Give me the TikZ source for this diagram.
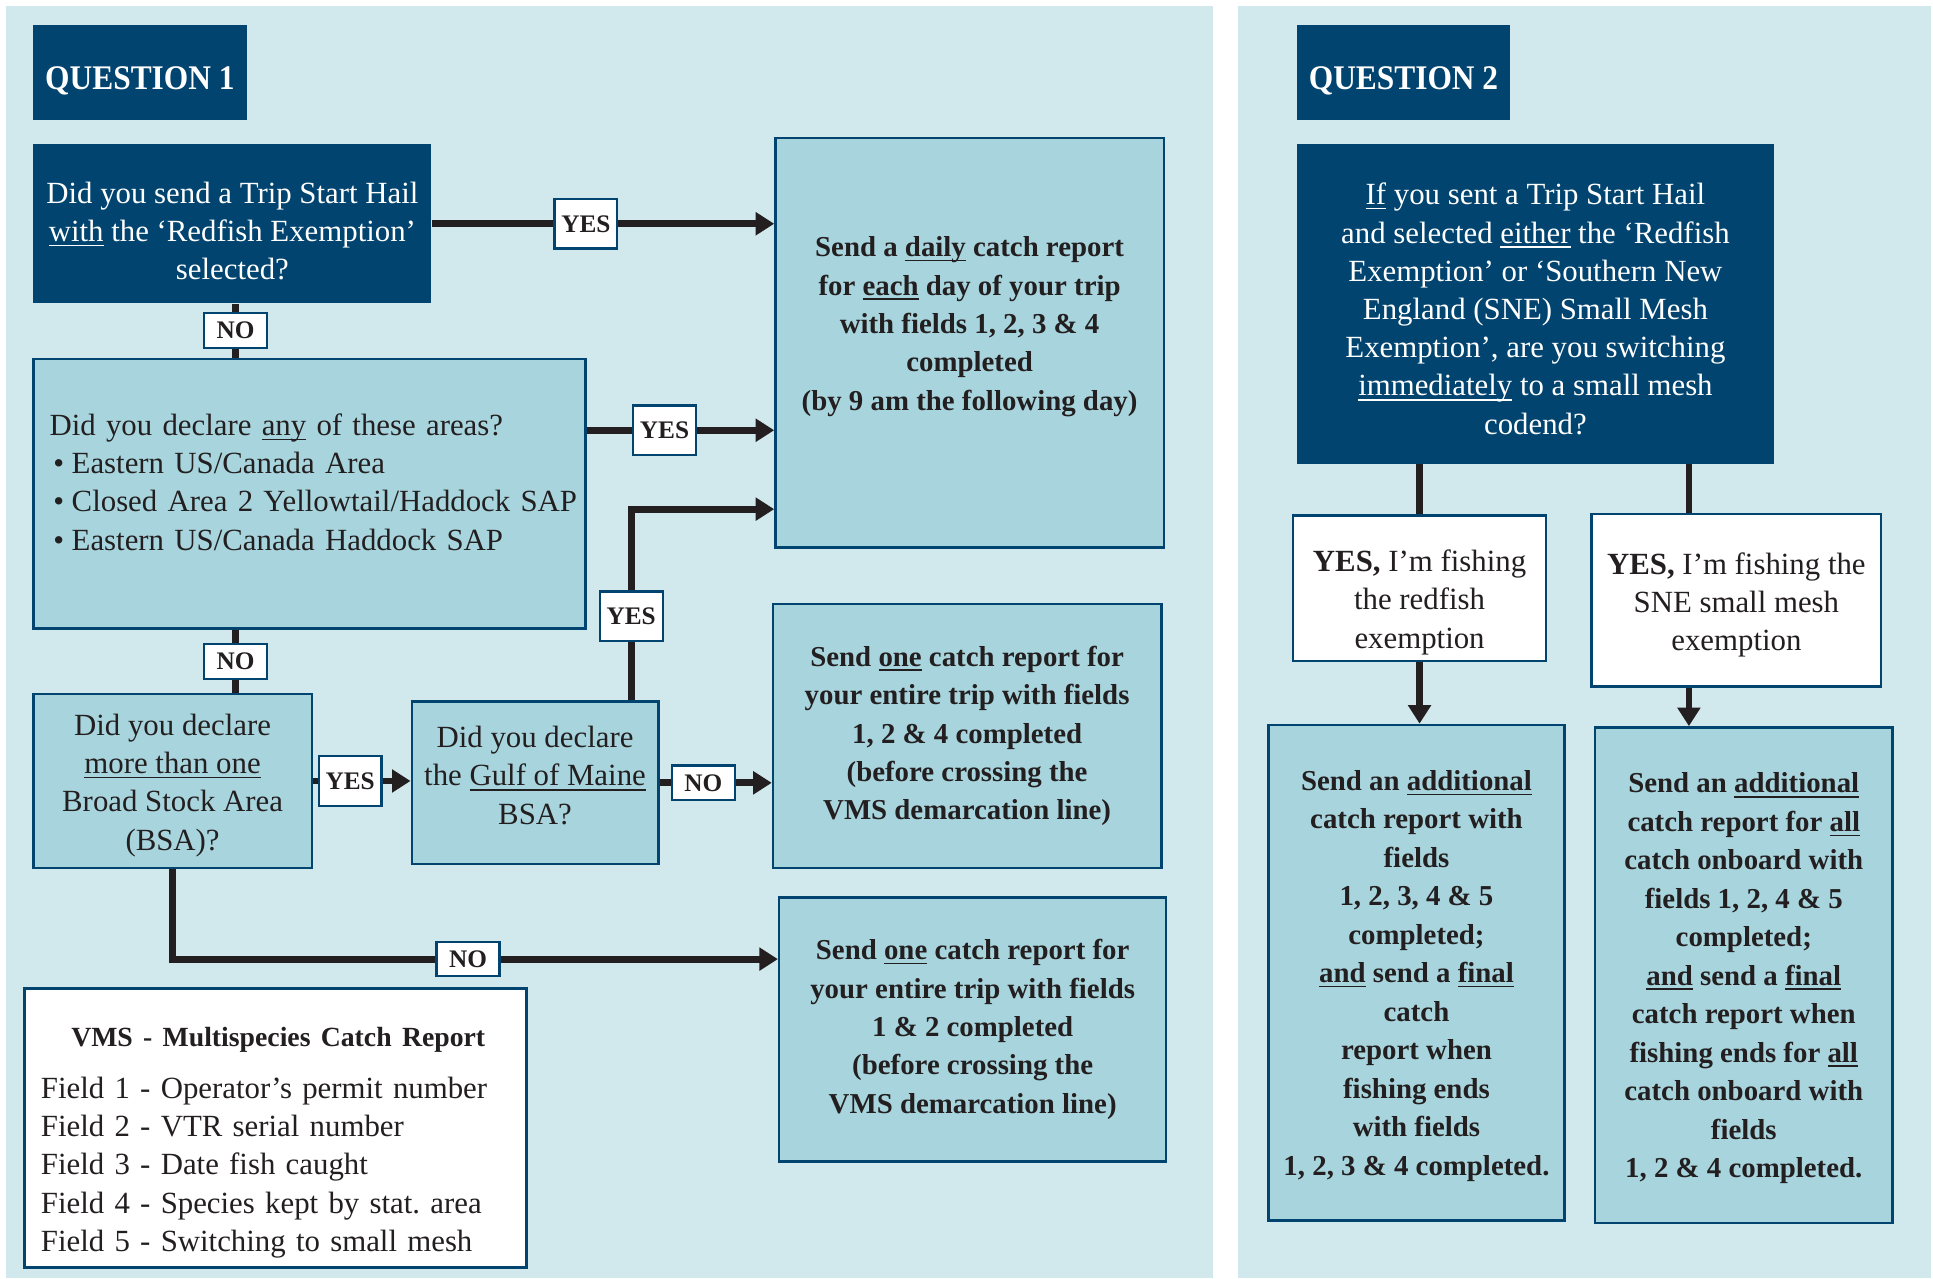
\documentclass[tikz,border=0pt]{standalone}
\usepackage{fontspec}
\setmainfont{Liberation Serif}
\newfontfamily\headfamily[FakeStretch=0.91]{Liberation Serif}
\usetikzlibrary{arrows.meta}
\definecolor{navy}{HTML}{00446F}
\definecolor{panelblue}{HTML}{D1E8EC}
\definecolor{boxblue}{HTML}{A8D5DD}
\definecolor{ink}{HTML}{231F20}
\newcommand{\bodyfont}{\fontsize{25}{31}\selectfont}
\newcommand{\reportfont}{\fontsize{23.4}{31.2}\selectfont\bfseries}
\newcommand{\tagfont}{\fontsize{20.5}{24}\selectfont\bfseries}
\newcommand{\headfont}{\headfamily\fontsize{28}{32}\selectfont\bfseries}
\newsavebox{\undrbox}
\newcommand{\undr}[1]{\sbox{\undrbox}{#1}\rlap{\rule[-3.8pt]{\wd\undrbox}{1.2pt}}\usebox{\undrbox}}
\newcommand{\bull}{\makebox[18pt][l]{\hspace{3pt}•}}
\frenchspacing

\begin{document}
\begin{tikzpicture}[x=1pt,y=-1pt]
        % Styles
        \tikzstyle{panel}=[fill=panelblue]
        \tikzstyle{head box}=[fill=navy,text=white,font=\headfont,minimum width=173pt,minimum height=77pt,inner sep=0pt,text height=31pt,text depth=2pt]
        \tikzstyle{question box}=[fill=navy,inner sep=0pt]
        \tikzstyle{question text}=[text=white,font=\bodyfont,align=center,inner sep=0pt]
        \tikzstyle{decision box}=[fill=boxblue,draw=navy,line width=2pt,text=ink,font=\bodyfont,align=center,inner sep=0pt]
        \tikzstyle{report box}=[decision box,font=\reportfont]
        \tikzstyle{answer box}=[fill=white,draw=navy,line width=2pt,inner sep=0pt]
        \tikzstyle{report text}=[text=ink,font=\reportfont,align=center,inner sep=0pt]
        \tikzstyle{answer text}=[text=ink,font=\bodyfont,align=center,inner sep=0pt]
        \tikzstyle{list text}=[text=ink,font=\bodyfont,align=left,inner sep=0pt]
        \tikzstyle{tag box}=[fill=white,draw=navy,line width=1.8pt,text=ink,font=\tagfont,minimum width=51pt,inner sep=0pt]
        \tikzstyle{yes tag}=[tag box,minimum height=40pt]
        \tikzstyle{no tag}=[tag box,minimum height=28pt]
        \tikzstyle{flow line}=[line width=5.5pt,draw=ink]
        \tikzstyle{flow arrow}=[flow line,-{Triangle[length=15pt,width=18pt]}]
        %The graphic
        \useasboundingbox (0,0) rectangle (1568,1037);
        %panels
        \foreach \xa/\xb in {5/984,1004/1566}
            \fill[style=panel] (\xa,5) rectangle (\xb,1037);
        \foreach \n/\x in {1/113.5,2/1138.5}
            \node[head box] (head \n) at (\x,58.5) {QUESTION \n};
        %question 1
        \node[question box,minimum width=323pt,minimum height=129pt] (hail) at (188.5,181.5) {};
        \node[question text] (hail text) at ([yshift=-6pt]hail.center)
            {Did you send a Trip Start Hail\\\undr{with} the ‘Redfish Exemption’\\selected?};
        \node[decision box,minimum width=448pt,minimum height=219pt] (areas) at (251,400.5) {};
        \node[list text,text width=430pt,anchor=west] (areas text) at ([xshift=14pt,yshift=9.5pt]areas.west)
            {Did you declare \undr{any} of these areas?\\ \bull Eastern US/Canada Area\\ \bull Closed Area 2 Yellowtail/Haddock SAP\\ \bull Eastern US/Canada Haddock SAP};
        \node[report box,minimum width=315pt,minimum height=332pt] (daily) at (786.5,278) {};
        \node[report text] (daily text) at ([yshift=13pt]daily.center)
            {Send a \undr{daily} catch report\\for \undr{each} day of your trip\\with fields 1, 2, 3 \& 4\\completed\\(by 9 am the following day)};
        \node[decision box,minimum width=226pt,minimum height=141pt] (bsa) at (140,633.5) {};
        \node[answer text] (bsa text) at ([yshift=-3.5pt]bsa.center)
            {Did you declare\\\undr{more than one}\\Broad Stock Area\\(BSA)?};
        \node[decision box,minimum width=200pt,minimum height=132pt] (gom) at (434,635) {};
        \node[answer text] (gom text) at ([yshift=6pt]gom.center)
            {Did you declare\\the \undr{Gulf of Maine}\\BSA?};
        \node[report box,minimum width=315pt,minimum height=214pt] (entire trip) at (784.5,597)
            {Send \undr{one} catch report for\\your entire trip with fields\\1, 2 \& 4 completed\\(before crossing the\\VMS demarcation line)};
        \node[report box,minimum width=314pt,minimum height=214pt] (entire trip two) at (789,835)
            {Send \undr{one} catch report for\\your entire trip with fields\\1 \& 2 completed\\(before crossing the\\VMS demarcation line)};
        %legend
        \node[answer box,minimum width=407pt,minimum height=226pt] (legend) at (223.5,915) {};
        \node[list text,text width=385pt,anchor=west] (legend text) at ([xshift=14pt,yshift=-12pt]legend.west)
            {\makebox[\linewidth]{\reportfont\fontsize{22.5}{30}\selectfont VMS - Multispecies Catch Report}\\[11pt]Field 1 - Operator’s permit number\\Field 2 - VTR serial number\\Field 3 - Date fish caught\\Field 4 - Species kept by stat. area\\Field 5 - Switching to small mesh};
        %question 2
        \node[question box,minimum width=387pt,minimum height=259pt] (switch) at (1245.5,246.5) {};
        \node[question text] (switch text) at ([yshift=-4pt]switch.center)
            {\undr{If} you sent a Trip Start Hail\\and selected \undr{either} the ‘Redfish\\Exemption’ or ‘Southern New\\England (SNE) Small Mesh\\Exemption’, are you switching\\\undr{immediately} to a small mesh\\codend?};
        \node[answer box,minimum width=205pt,minimum height=118pt] (redfish) at (1151.5,477) {};
        \node[answer text] (redfish text) at ([yshift=-11.5pt]redfish.center)
            {\textbf{YES,} I’m fishing\\the redfish\\exemption};
        \node[answer box,minimum width=235pt,minimum height=140pt] (sne) at (1408.5,487) {};
        \node[answer text] (sne text) at ([yshift=-3.5pt]sne.center)
            {\textbf{YES,} I’m fishing the\\SNE small mesh\\exemption};
        \node[report box,minimum width=240pt,minimum height=402pt] (redfish report) at (1149,789) {};
        \node[report text] (redfish report text) at ([yshift=-2.5pt]redfish report.center)
            {Send an \undr{additional}\\catch report with\\fields\\1, 2, 3, 4 \& 5\\completed;\\\undr{and} send a \undr{final}\\catch\\report when\\fishing ends\\with fields\\1, 2, 3 \& 4 completed.};
        \node[report box,minimum width=241pt,minimum height=402pt] (sne report) at (1414.5,791) {};
        \node[report text] (sne report text) at ([yshift=-2.5pt]sne report.center)
            {Send an \undr{additional}\\catch report for \undr{all}\\catch onboard with\\fields 1, 2, 4 \& 5\\completed;\\\undr{and} send a \undr{final}\\catch report when\\fishing ends for \undr{all}\\catch onboard with\\fields\\1, 2 \& 4 completed.};
        %connectors
        \draw[flow arrow] (hail.east) -- (hail.east -| daily.west) node[yes tag,pos=0.45] {YES};
        \draw[flow line] ([xshift=2.5pt]hail.south) -- ([xshift=2.5pt]hail.south |- areas.north) node[no tag,midway] {NO};
        \draw[flow arrow] ([yshift=51.5pt]areas.east) -- ([yshift=51.5pt]areas.east -| daily.west) node[yes tag,pos=0.415] {YES};
        \draw[flow line] ([xshift=-60pt]areas.south) -- ([xshift=-60pt]areas.south |- bsa.north) node[no tag,midway] {NO};
        \draw[flow arrow] (bsa.east) -- (bsa.east -| gom.west) node[yes tag,pos=0.38] {YES};
        \draw[flow arrow] ([xshift=78pt]gom.north) |- ([yshift=-135pt]daily.west) node[yes tag,pos=0.22] {YES};
        \draw[flow arrow] (gom.east) -- (gom.east -| entire trip.west) node[no tag,pos=0.39] {NO};
        \draw[flow arrow] (bsa.south) |- ([yshift=57pt]entire trip two.west) node[no tag,pos=0.744] {NO};
        \draw[flow line] (redfish.north) -- (redfish.north |- switch.south);
        \draw[flow line] ([xshift=-38.5pt]sne.north) -- ([xshift=-38.5pt]sne.north |- switch.south);
        \draw[flow arrow] (redfish.south) -- (redfish.south |- redfish report.north);
        \draw[flow arrow] ([xshift=-38.5pt]sne.south) -- ([xshift=-38.5pt]sne.south |- sne report.north);
\end{tikzpicture}
\end{document}
